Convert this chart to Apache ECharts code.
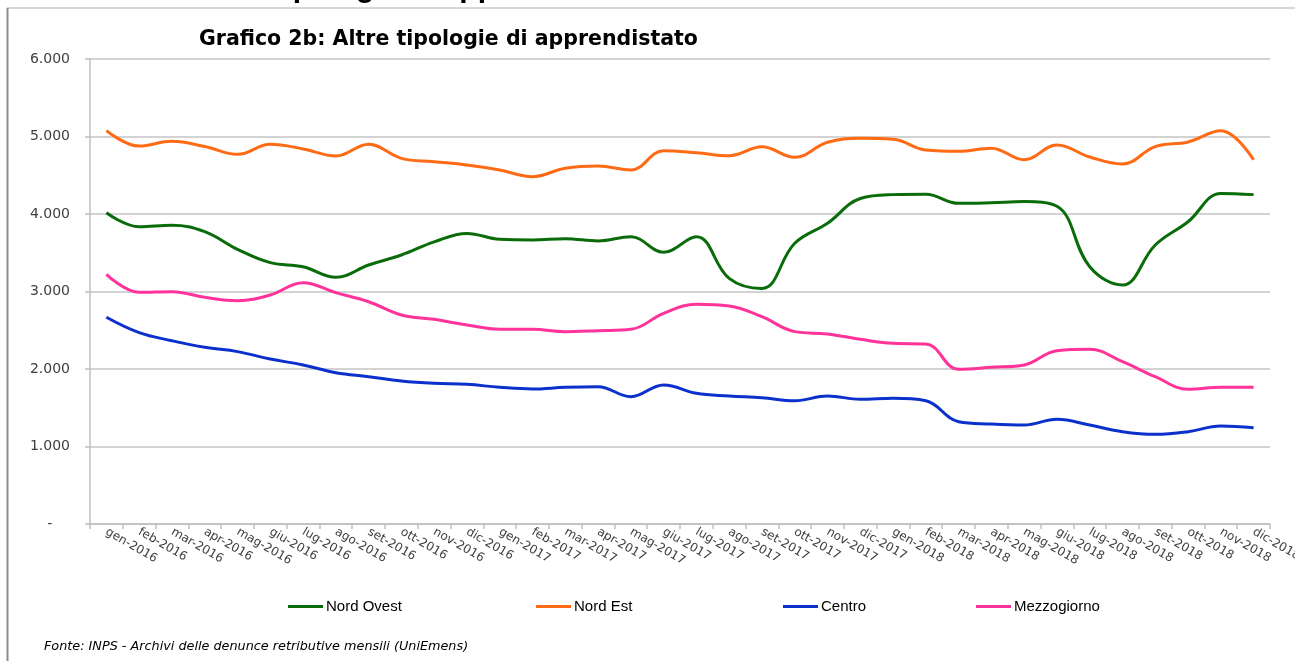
<!DOCTYPE html>
<html>
<head>
<meta charset="utf-8">
<script src="https://cdn.jsdelivr.net/npm/echarts@6/dist/echarts.min.js"></script>
<style>
html,body{margin:0;padding:0;background:#fff;}
#chart{width:1295px;height:661px;}
</style>
</head>
<body>
<div id="chart"></div>
<script>
const categories = [
  'gen-2016','feb-2016','mar-2016','apr-2016','mag-2016','giu-2016','lug-2016','ago-2016','set-2016','ott-2016','nov-2016','dic-2016',
  'gen-2017','feb-2017','mar-2017','apr-2017','mag-2017','giu-2017','lug-2017','ago-2017','set-2017','ott-2017','nov-2017','dic-2017',
  'gen-2018','feb-2018','mar-2018','apr-2018','mag-2018','giu-2018','lug-2018','ago-2018','set-2018','ott-2018','nov-2018','dic-2018'
];
const nordOvest = [4017,3836,3854,3772,3544,3372,3320,3183,3342,3471,3640,3750,
  3673,3665,3681,3652,3707,3506,3707,3170,3040,3622,3880,4200,
  4250,4255,4138,4146,4160,4100,3320,3084,3600,3900,4265,4250];
const nordEst = [5075,4877,4938,4870,4770,4900,4840,4748,4900,4718,4675,4632,
  4568,4482,4590,4620,4568,4817,4791,4752,4868,4731,4925,4976,
  4965,4826,4810,4850,4700,4890,4735,4645,4870,4930,5075,4700];
const centro = [2667,2469,2365,2280,2224,2129,2052,1952,1901,1845,1815,1802,
  1764,1742,1764,1772,1643,1794,1686,1652,1630,1591,1652,1609,
  1622,1591,1320,1290,1277,1351,1277,1191,1157,1191,1265,1243];
const mezzogiorno = [3222,2990,2998,2925,2882,2955,3114,2985,2868,2697,2641,2568,
  2512,2512,2482,2495,2512,2718,2835,2813,2675,2482,2452,2383,
  2331,2323,1996,2022,2052,2236,2254,2094,1901,1738,1764,1764];
const seriesNames = ['Nord Ovest','Nord Est','Centro','Mezzogiorno'];
const titleText = 'Grafico 2b: Altre tipologie di apprendistato';
const topHeading = 'Le tipologie di apprendistato';
const sourceText = 'Fonte: INPS - Archivi delle denunce retributive mensili (UniEmens)';

const colors = ['#0a6b0a','#ff6a14','#0b30cc','#ff3399'];
const data = [nordOvest, nordEst, centro, mezzogiorno];

function fmt(v){
  if (v === 0) return '-    ';
  return String(v).replace(/\B(?=(\d{3})+(?!\d))/g, '.');
}

const chart = echarts.init(document.getElementById('chart'), null, {renderer:'canvas'});
const legendLefts = [283, 531, 778, 971];
chart.setOption({
  backgroundColor: '#fff',
  animation: false,
  color: colors,
  title: {
    text: titleText,
    left: 194, top: 24,
    textStyle: {fontFamily: 'DejaVu Sans', fontWeight: 'bold', fontSize: 20.5, color: '#000'}
  },
  legend: seriesNames.map((n, i) => ({
    data: [n],
    left: legendLefts[i],
    top: 594,
    icon: 'rect',
    itemWidth: 35,
    itemHeight: 3,
    itemGap: 0,
    textStyle: {fontFamily: 'Liberation Sans', fontSize: 15, color: '#000', padding: [0,0,0,-2]}
  })),
  grid: {left: 90, right: 25, top: 59, bottom: 137, containLabel: false, outerBoundsMode: 'none'},
  xAxis: {
    type: 'category',
    data: categories,
    boundaryGap: true,
    axisLine: {lineStyle: {color: '#bfbfbf', width: 1.5}},
    axisTick: {show: true, length: 5, interval: 0, lineStyle: {color: '#bfbfbf', width: 1.5}},
    axisLabel: {interval: 0, rotate: -30, margin: 7, fontFamily: 'DejaVu Sans', fontSize: 12, color: '#404040'},
    splitLine: {show: false}
  },
  yAxis: {
    type: 'value',
    min: 0, max: 6000, interval: 1000,
    axisLine: {show: true, lineStyle: {color: '#bfbfbf', width: 1.5}},
    axisTick: {show: true, length: 5, lineStyle: {color: '#bfbfbf', width: 1.5}},
    axisLabel: {formatter: fmt, margin: 20, fontFamily: 'DejaVu Sans', fontSize: 14, color: '#404040'},
    splitLine: {lineStyle: {color: '#c4c4c4', width: 1.5}}
  },
  series: seriesNames.map((n, i) => ({
    name: n,
    type: 'line',
    data: data[i],
    smooth: 0.4,
    showSymbol: false,
    symbol: 'none',
    lineStyle: {width: 3, color: colors[i]},
    itemStyle: {color: colors[i]},
    z: 3
  })),
  graphic: [
    {type: 'line', shape: {x1: 7, y1: 8, x2: 1295, y2: 8}, style: {stroke: '#c8c8c8', lineWidth: 1.5}, silent: true},
    {type: 'line', shape: {x1: 7.5, y1: 8, x2: 7.5, y2: 661}, style: {stroke: '#8c8c8c', lineWidth: 2}, silent: true},
    {type: 'text', left: 231, top: -26, style: {text: topHeading, font: 'bold 30px "Liberation Sans"', fill: '#000'}, silent: true},
    {type: 'text', left: 44, top: 640, style: {text: sourceText, font: 'italic 12.8px "DejaVu Sans"', fill: '#000'}, silent: true}
  ]
});
</script>
</body>
</html>
